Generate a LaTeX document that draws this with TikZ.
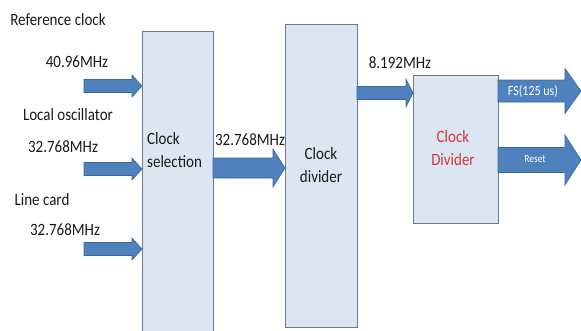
\documentclass[tikz,border=0pt]{standalone}
\usepackage{fontspec}
\usepackage{graphicx}
\setmainfont{Carlito}
\usetikzlibrary{calc}
\definecolor{boxfill}{HTML}{DCE6F2}
\definecolor{boxline}{HTML}{6C7A89}
\definecolor{arrfill}{HTML}{4F81BD}
\definecolor{arrline}{HTML}{3B679B}
\definecolor{redtext}{HTML}{D8343C}
\newcommand\tall[1]{\scalebox{1}[1.15]{#1}}
\tikzset{
  blockbox/.style={draw=boxline, fill=boxfill, line width=0.9pt, inner sep=0pt},
  blockarrow/.style={fill=arrfill, draw=arrline, line width=0.6pt},
  lbl/.style={inner sep=0pt, font=\fontsize{15}{19}\selectfont, text=black!90},
  arrlbl/.style={inner sep=0pt, text=white},
}
\newcommand\barrow[5]{%
  \path[blockarrow] let \p1=(#1), \p2=(#2) in
    (\x1,\y1+#3) -- (\x2-#5,\y1+#3) -- (\x2-#5,\y1+#4) -- (\x2,\y1)
    -- (\x2-#5,\y1-#4) -- (\x2-#5,\y1-#3) -- (\x1,\y1-#3) -- cycle;}
\begin{document}
\begin{tikzpicture}[x=1pt,y=-1pt]
\useasboundingbox (0,0) rectangle (581,330);
% boxes
\node[blockbox, minimum width=71pt, minimum height=304pt, anchor=north west] (sel) at (142,31) {};
\node[blockbox, minimum width=72pt, minimum height=303pt, anchor=north west] (div) at (285,24) {};
\node[blockbox, minimum width=85pt, minimum height=148pt, anchor=north west] (fd) at (413,75) {};
% box texts
\node[lbl, anchor=west, align=left] (seltxt) at (147,150) {\tall{Clock}\\[4pt]\tall{selection}};
\node[lbl, align=center] (divtxt) at (321,165) {\tall{Clock}\\[4pt]\tall{divider}};
\node[lbl, align=center, text=redtext] (fdtxt) at (453,148) {\tall{Clock}\\[4pt]\tall{Divider}};
% input labels
\node[lbl] (l1) at (58,20) {\tall{Reference clock}};
\node[lbl] (l2) at (77,62) {\tall{40.96MHz}};
\node[lbl] (l3) at (68,115) {\tall{Local oscillator}};
\node[lbl] (l4) at (63,147) {\tall{32.768MHz}};
\node[lbl] (l5) at (42,200) {\tall{Line card}};
\node[lbl] (l6) at (65,230) {\tall{32.768MHz}};
\node[lbl] (l7) at (250,140) {\tall{32.768MHz}};
\node[lbl] (l8) at (400,63) {\tall{8.192MHz}};
% arrow anchors
\coordinate (a1) at (84,86);
\coordinate (a2) at (84,169);
\coordinate (a3) at (84,249);
\coordinate (a4) at (213,168);
\coordinate (a5) at (357,93);
\coordinate (a6) at (498,91);
\coordinate (a7) at (498,160);
\coordinate (e6) at (581,91);
% arrows
\barrow{a1}{sel.west}{6.5pt}{11pt}{10pt}
\barrow{a2}{sel.west}{6.5pt}{11pt}{10pt}
\barrow{a3}{sel.west}{6.5pt}{11pt}{10pt}
\barrow{a4}{div.west}{10pt}{19pt}{12pt}
\barrow{a5}{fd.west}{6.5pt}{14pt}{7pt}
\barrow{a6}{e6}{11pt}{22.5pt}{16pt}
\barrow{a7}{e6}{12.5pt}{25pt}{16pt}
% arrow labels
\node[arrlbl, font=\fontsize{12}{13}\selectfont] (fs) at (533,91) {\tall{FS(125 us)}};
\node[arrlbl, font=\fontsize{9.5}{11}\selectfont] (rs) at (535,159) {\tall{Reset}};
\end{tikzpicture}
\end{document}
